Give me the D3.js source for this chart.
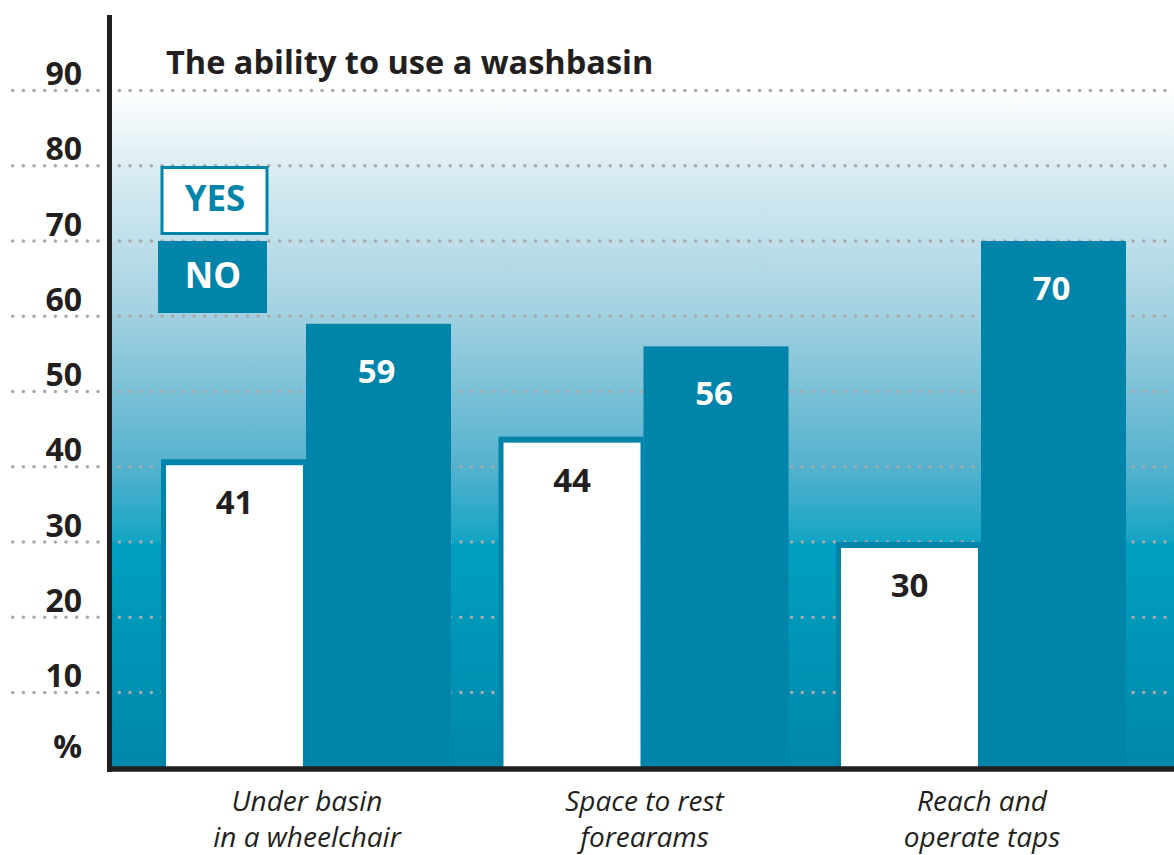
<!DOCTYPE html>
<html lang="en">
<head>
    <meta charset="UTF-8">
    <script src="https://d3js.org/d3.v7.min.js"></script>
    <style>
        body{ margin:0; background:#fff; }
        text{ font-family:"Open Sans", sans-serif; }
        .ylab text{ font-size:32px; font-weight:700; fill:#231f20; }
        .cat{ font-size:28px; font-style:italic; fill:#231f20; }
        .val{ font-size:33px; font-weight:700; }
    </style>
    <title>The ability to use a washbasin</title>
</head>
<body>
    <svg width="1174" height="855"></svg>
    <script>

        // data
        const categories = [
            ["Under basin", "in a wheelchair"],
            ["Space to rest", "forearams"],
            ["Reach and", "operate taps"]
        ];
        const yesValues = [41, 44, 30];
        const noValues = [59, 56, 70];
        const seriesNames = ["YES", "NO"];
        const yTicks = [0, 10, 20, 30, 40, 50, 60, 70, 80, 90];

        const width = 1174;
        const height = 855;
        const teal = "#0084a9";
        const dark = "#231f20";

        const svg = d3.select("svg")
            .attr("width", width)
            .attr("height", height);

        const yScale = d3.scaleLinear()
            .domain([0, 90])
            .range([767.75, 90.5]);

        const xScale = d3.scaleBand()
            .domain(d3.range(categories.length))
            .range([161, 1126])
            .paddingInner(47.5 / 337.5)
            .paddingOuter(0);

        const xSub = d3.scaleBand()
            .domain(seriesNames)
            .range([0, xScale.bandwidth()]);

        // background gradient
        const defs = svg.append("defs");
        const grad = defs.append("linearGradient")
            .attr("id", "bg")
            .attr("gradientUnits", "userSpaceOnUse")
            .attr("x1", 0).attr("x2", 0)
            .attr("y1", yScale(90)).attr("y2", yScale(0));
        [
            [0, "#ffffff"],
            [0.11, "#dcedf3"],
            [0.33, "#a2d1e1"],
            [0.555, "#55b2ce"],
            [0.665, "#14a5c4"],
            [0.668, "#00a0c0"],
            [1, "#0087ab"]
        ].forEach(s => grad.append("stop").attr("offset", s[0]).attr("stop-color", s[1]));

        svg.append("rect")
            .attr("x", 110)
            .attr("y", yScale(90))
            .attr("width", width - 110)
            .attr("height", yScale(0) - yScale(90))
            .attr("fill", "url(#bg)");

        // dotted grid
        svg.append("g")
            .selectAll("line")
            .data(yTicks.filter(d => d > 0))
            .enter().append("line")
            .attr("x1", 12.7)
            .attr("x2", width)
            .attr("y1", d => yScale(d))
            .attr("y2", d => yScale(d))
            .attr("stroke", "#a9a9ab")
            .attr("stroke-width", 3.6)
            .attr("stroke-linecap", "round")
            .attr("stroke-dasharray", "0,10.67");

        // y labels
        const yAxis = svg.append("g")
            .attr("class", "ylab")
            .attr("transform", "translate(82,0)")
            .call(d3.axisLeft(yScale)
                .tickValues(yTicks)
                .tickSize(0)
                .tickPadding(0)
                .tickFormat(d => d === 0 ? "%" : d));
        yAxis.select(".domain").remove();
        yAxis.selectAll("text")
            .attr("font-family", null)
            .attr("font-size", null)
            .attr("fill", null)
            .attr("dy", d => d === 0 ? -10 : -6);

        // bars
        const groups = svg.append("g")
            .selectAll("g")
            .data(categories.map((c, i) => ({ i, yes: yesValues[i], no: noValues[i] })))
            .enter().append("g")
            .attr("transform", d => `translate(${xScale(d.i)},0)`);

        groups.append("rect")
            .attr("x", xSub("YES"))
            .attr("y", d => yScale(d.yes))
            .attr("width", xSub.bandwidth())
            .attr("height", d => yScale(0) - yScale(d.yes))
            .attr("fill", teal);

        groups.append("rect")
            .attr("x", xSub("YES") + 5)
            .attr("y", d => yScale(d.yes) + 6)
            .attr("width", xSub.bandwidth() - 8)
            .attr("height", d => yScale(0) - yScale(d.yes) - 6)
            .attr("fill", "#fff");

        groups.append("rect")
            .attr("x", xSub("NO"))
            .attr("y", d => yScale(d.no))
            .attr("width", xSub.bandwidth())
            .attr("height", d => yScale(0) - yScale(d.no))
            .attr("fill", teal);

        groups.append("text")
            .attr("class", "val")
            .attr("x", xSub("YES") + xSub.bandwidth() / 2 + 1)
            .attr("y", d => yScale(d.yes) + 55)
            .attr("text-anchor", "middle")
            .attr("fill", dark)
            .text(d => d.yes);

        groups.append("text")
            .attr("class", "val")
            .attr("x", xSub("NO") + xSub.bandwidth() / 2 - 2)
            .attr("y", d => yScale(d.no) + 59)
            .attr("text-anchor", "middle")
            .attr("fill", "#fff")
            .text(d => d.no);

        // category labels
        const cats = svg.append("g")
            .selectAll("text")
            .data(categories)
            .enter().append("text")
            .attr("class", "cat")
            .attr("text-anchor", "middle")
            .attr("x", (d, i) => xScale(i) + xScale.bandwidth() / 2 + 1)
            .attr("y", 811);
        cats.append("tspan").text(d => d[0]);
        cats.append("tspan")
            .attr("x", (d, i) => xScale(i) + xScale.bandwidth() / 2 + 1)
            .attr("dy", 36)
            .text(d => d[1]);

        // axes lines
        svg.append("line")
            .attr("x1", 109.5).attr("x2", 109.5)
            .attr("y1", 15).attr("y2", 772)
            .attr("stroke", dark).attr("stroke-width", 5);
        svg.append("line")
            .attr("x1", 107).attr("x2", width)
            .attr("y1", 769).attr("y2", 769)
            .attr("stroke", dark).attr("stroke-width", 5.5);

        // title
        svg.append("text")
            .attr("x", 166)
            .attr("y", 74)
            .attr("font-size", 32.5)
            .attr("font-weight", 700)
            .attr("fill", dark)
            .text("The ability to use a washbasin");

        // legend
        const legend = svg.append("g");
        legend.append("rect")
            .attr("x", 162).attr("y", 167.5)
            .attr("width", 105).attr("height", 66)
            .attr("fill", "#fff")
            .attr("stroke", teal).attr("stroke-width", 3);
        legend.append("text")
            .attr("x", 215).attr("y", 211)
            .attr("text-anchor", "middle")
            .attr("font-size", 35).attr("font-weight", 700)
            .attr("fill", teal)
            .text(seriesNames[0]);
        legend.append("rect")
            .attr("x", 158).attr("y", 241)
            .attr("width", 109).attr("height", 72)
            .attr("fill", teal);
        legend.append("text")
            .attr("x", 213).attr("y", 288)
            .attr("text-anchor", "middle")
            .attr("font-size", 35).attr("font-weight", 700)
            .attr("fill", "#fff")
            .text(seriesNames[1]);

    </script>
</body>
</html>
